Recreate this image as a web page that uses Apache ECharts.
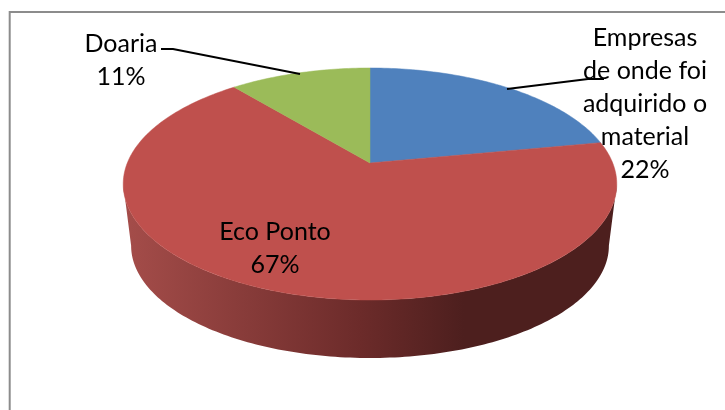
<!DOCTYPE html>
<html>
<head>
<meta charset="utf-8">
<style>html,body{margin:0;padding:0;background:#fff}#c{width:725px;height:410px}</style>
<script src="https://cdn.jsdelivr.net/npm/echarts@6/dist/echarts.min.js"></script>
</head>
<body>
<div id="c"></div>
<script>
const categories = ['Empresas\nde onde foi\nadquirido o\nmaterial', 'Eco Ponto', 'Doaria'];
const values = [22, 67, 11];
const sliceColors = ['#4f81bd', '#bf504d', '#9bbb59'];

// projected pie geometry
const CX = 370, CY = 163, RX = 242.7, RY = 112.2, K = 0.181;
const DEPTH_Y = 62.4, DEPTH_SCALE = 0.968;
const labelAnchors = [[645, 104], [275, 248], [121, 60]];
const leaders = [
  [[507, 89], [588, 79], [604, 79]],
  null,
  [[300, 74], [173, 49], [161, 49]]
];

function topPoint(deg) {
  const t = deg * Math.PI / 180, u = Math.sin(t), v = -Math.cos(t), w = 1 / (1 - K * v);
  return [CX + RX * u * w, CY + RY * v * w];
}
function bottomPoint(deg) {
  const p = topPoint(deg);
  return [CX + (p[0] - CX) * DEPTH_SCALE, CY + DEPTH_Y + (p[1] - CY) * DEPTH_SCALE];
}
const total = values.reduce((a, b) => a + b, 0);
const FRONT_A = 180 - Math.acos(K) * 180 / Math.PI, FRONT_B = 360 - FRONT_A;

function arc(fn, a, b) {
  const pts = [], n = Math.max(2, Math.ceil(Math.abs(b - a)));
  for (let i = 0; i <= n; i++) pts.push(fn(a + (b - a) * i / n));
  return pts;
}
function range(i) {
  const before = values.slice(0, i).reduce((a, b) => a + b, 0);
  return [before / total * 360, (before + values[i]) / total * 360];
}
const sideFill = {
  type: 'linear', x: 0, y: 0, x2: 1, y2: 0,
  colorStops: [
    { offset: 0, color: '#a54d4a' },
    { offset: 0.48, color: '#6c2b2a' },
    { offset: 0.69, color: '#4d1f1e' },
    { offset: 1, color: '#4d1f1e' }
  ]
};

const chart = echarts.init(document.getElementById('c'), null, { renderer: 'canvas' });
chart.setOption({
  animation: false,
  backgroundColor: '#fff',
  graphic: [{
    type: 'polyline', silent: true,
    shape: { points: [[9.7, 410], [9.7, 12], [725, 12]] },
    style: { stroke: '#8c8c8c', lineWidth: 2, fill: null }
  }],
  series: [
    {
      type: 'custom', coordinateSystem: 'none', silent: true, z: 1,
      data: categories.map((c, i) => ({ name: c, value: values[i] })),
      renderItem(params) {
        const [a, b] = range(params.dataIndex);
        const s = Math.max(a, FRONT_A), e = Math.min(b, FRONT_B);
        if (s >= e) return { type: 'group', children: [] };
        return {
          type: 'polygon',
          shape: { points: arc(topPoint, s, e).concat(arc(bottomPoint, e, s)) },
          style: { fill: sideFill }
        };
      }
    },
    {
      type: 'custom', coordinateSystem: 'none', silent: true, z: 2,
      data: categories.map((c, i) => ({ name: c, value: values[i] })),
      renderItem(params) {
        const [a, b] = range(params.dataIndex);
        const col = sliceColors[params.dataIndex];
        return {
          type: 'polygon',
          shape: { points: [[CX, CY]].concat(arc(topPoint, a, b)) },
          style: { fill: col, stroke: col, lineWidth: 0.5 }
        };
      }
    },
    {
      type: 'custom', coordinateSystem: 'none', silent: true, z: 3,
      data: categories.map((c, i) => ({ name: c, value: values[i] })),
      renderItem(params) {
        const i = params.dataIndex, children = [];
        if (leaders[i]) children.push({
          type: 'polyline', shape: { points: leaders[i] },
          style: { stroke: '#000', lineWidth: 2, fill: null }
        });
        children.push({
          type: 'text',
          style: {
            text: categories[i] + '\n' + values[i] + '%',
            x: labelAnchors[i][0], y: labelAnchors[i][1],
            align: 'center', verticalAlign: 'middle',
            fill: '#000', fontFamily: 'Lato', fontSize: 25, lineHeight: 33
          }
        });
        return { type: 'group', children };
      }
    }
  ]
});
</script>
</body>
</html>
